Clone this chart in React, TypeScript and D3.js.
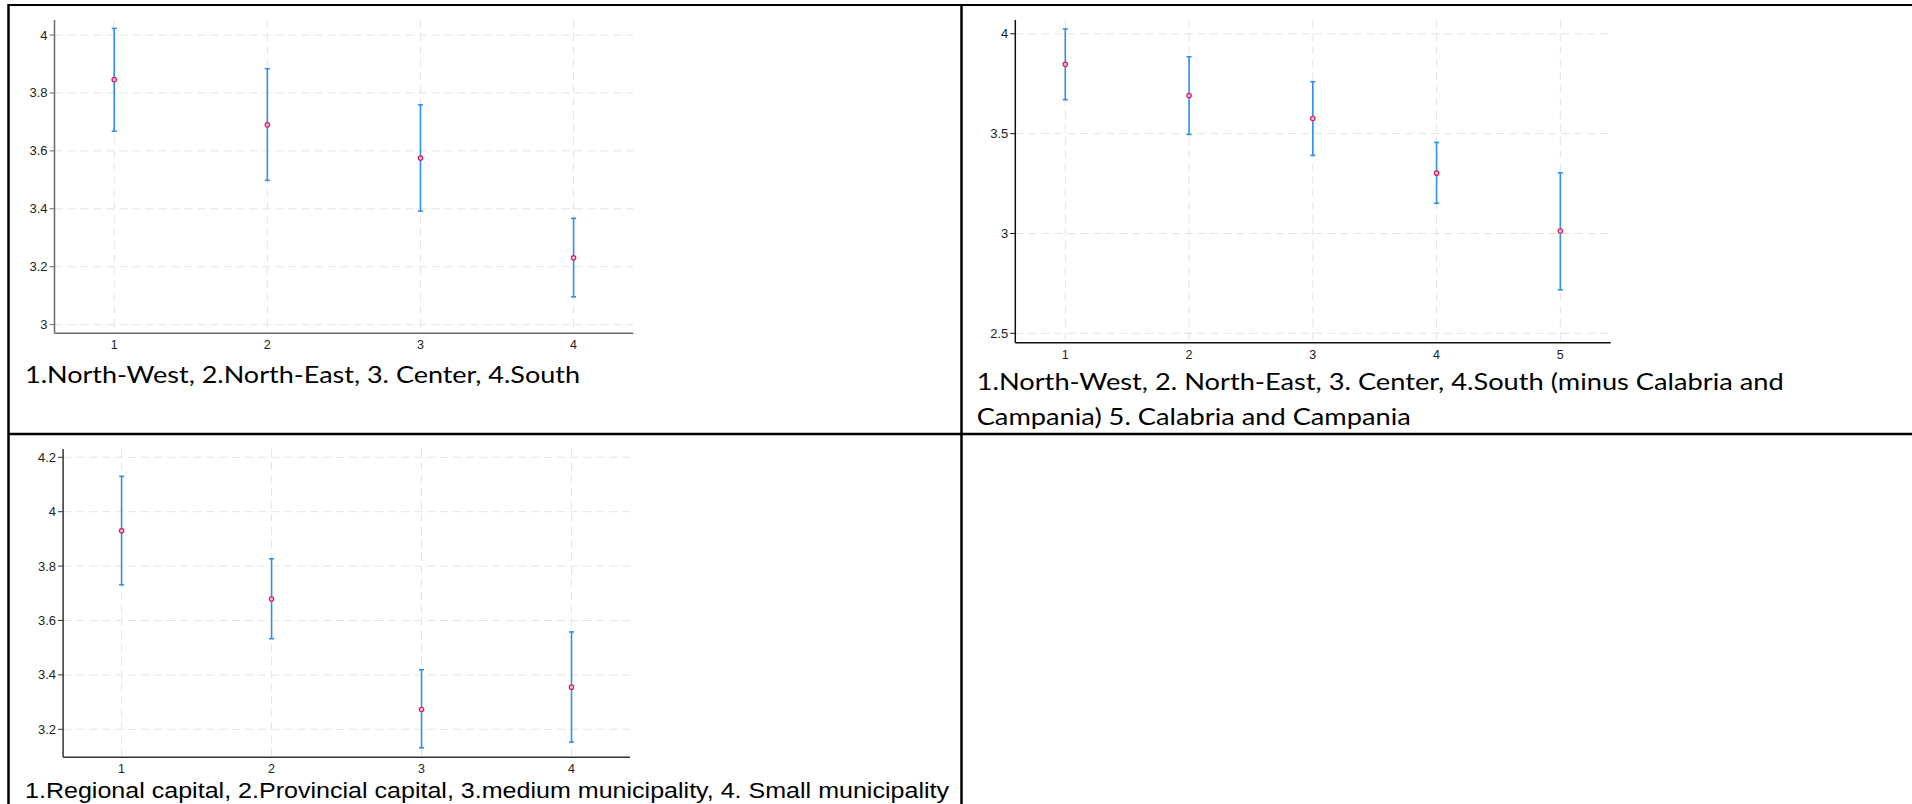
import React from "react";
import * as d3 from "d3";

// ---------- data ----------
const p1Categories = [1, 2, 3, 4];
const p1Mean = [3.846, 3.69, 3.575, 3.231];
const p1Lower = [3.668, 3.498, 3.392, 3.096];
const p1Upper = [4.023, 3.884, 3.759, 3.367];
const p1YTicks = [3, 3.2, 3.4, 3.6, 3.8, 4];
const p1Caption = ["1.North-West, 2.North-East, 3. Center, 4.South"];

const p2Categories = [1, 2, 3, 4, 5];
const p2Mean = [3.847, 3.691, 3.576, 3.302, 3.012];
const p2Lower = [3.67, 3.496, 3.391, 3.151, 2.718];
const p2Upper = [4.024, 3.885, 3.76, 3.456, 3.304];
const p2YTicks = [2.5, 3, 3.5, 4];
const p2Caption = [
  "1.North-West, 2. North-East, 3. Center, 4.South (minus Calabria and",
  "Campania) 5. Calabria and Campania",
];

const p3Categories = [1, 2, 3, 4];
const p3Mean = [3.93, 3.679, 3.273, 3.355];
const p3Lower = [3.731, 3.533, 3.132, 3.153];
const p3Upper = [4.13, 3.827, 3.419, 3.558];
const p3YTicks = [3.2, 3.4, 3.6, 3.8, 4, 4.2];
const p3Caption = [
  "1.Regional capital, 2.Provincial capital, 3.medium municipality, 4. Small municipality",
];

type PanelProps = {
  cats: number[];
  mean: number[];
  lower: number[];
  upper: number[];
  yTicks: number[];
  left: number;
  right: number;
  top: number;
  bottom: number;
  xDomain: [number, number];
  yDomain: [number, number];
  axisColor: string;
};

const GRID = "#e4e4e4";
const BAR = "#2f8ef2";
const MARK = "#dd1a5e";
const TICKFONT = "'Liberation Sans', Arial, sans-serif";
const CAPFONT = "Lato, 'Open Sans', sans-serif";
const CAPSIZE = 22.5;

function measure(text: string, font: string): number {
  if (typeof document === "undefined") return text.length * 10;
  const c = document.createElement("canvas").getContext("2d");
  if (!c) return text.length * 10;
  c.font = font;
  return c.measureText(text).width;
}

function Panel(p: PanelProps) {
  const x = d3.scaleLinear().domain(p.xDomain).range([p.left, p.right]);
  const y = d3.scaleLinear().domain(p.yDomain).range([p.bottom, p.top]);
  const fmt = (v: number) => d3.format("~g")(v);
  return (
    <g>
      {p.yTicks.map((t) => (
        <line key={"gy" + t} x1={p.left} x2={p.right} y1={y(t)} y2={y(t)}
          stroke={GRID} strokeWidth={1} strokeDasharray="8 5" />
      ))}
      {p.cats.map((c) => (
        <line key={"gx" + c} x1={x(c)} x2={x(c)} y1={p.top} y2={p.bottom}
          stroke={GRID} strokeWidth={1} strokeDasharray="8 5" />
      ))}
      <line x1={p.left} x2={p.left} y1={p.top} y2={p.bottom} stroke={p.axisColor} strokeWidth={1.5} />
      <line x1={p.left} x2={p.right} y1={p.bottom} y2={p.bottom} stroke={p.axisColor} strokeWidth={1.5} />
      {p.yTicks.map((t) => (
        <g key={"ty" + t}>
          <line x1={p.left - 5} x2={p.left} y1={y(t)} y2={y(t)} stroke={p.axisColor} strokeWidth={1} />
          <text x={p.left - 7} y={y(t)} textAnchor="end" dominantBaseline="central"
            fontFamily={TICKFONT} fontSize={13} fill="#222">
            {fmt(t)}
          </text>
        </g>
      ))}
      {p.cats.map((c) => (
        <text key={"tx" + c} x={x(c)} y={p.bottom + 16} textAnchor="middle"
          fontFamily={TICKFONT} fontSize={12.5} fill="#222">
          {c}
        </text>
      ))}
      {p.cats.map((c, i) => (
        <g key={"eb" + c}>
          <line x1={x(c)} x2={x(c)} y1={y(p.lower[i])} y2={y(p.upper[i])} stroke={BAR} strokeWidth={1.6} />
          <line x1={x(c) - 2.5} x2={x(c) + 2.5} y1={y(p.lower[i])} y2={y(p.lower[i])} stroke={BAR} strokeWidth={1.6} />
          <line x1={x(c) - 2.5} x2={x(c) + 2.5} y1={y(p.upper[i])} y2={y(p.upper[i])} stroke={BAR} strokeWidth={1.6} />
          <circle cx={x(c)} cy={y(p.mean[i])} r={2.2} fill="#f6c3d6" stroke={MARK} strokeWidth={1.2} />
        </g>
      ))}
    </g>
  );
}

export default function App() {
  const capFont = `${CAPSIZE}px Lato, 'Open Sans', sans-serif`;
  const w1 = measure(p2Caption[0], capFont);
  const w2 = measure(p2Caption[1], capFont);
  const line1Len = 807;
  const ratio = w1 > 0 ? line1Len / w1 : 1;
  const line2Len = w2 * ratio;
  return (
    <svg width={1912} height={804} style={{ position: "absolute", left: 0, top: 0, background: "#fff" }}>
      <rect x={0} y={0} width={1912} height={804} fill="#fff" />
      <line x1={8} x2={1912} y1={5} y2={5} stroke="#000" strokeWidth={2} />
      <line x1={8.5} x2={8.5} y1={4} y2={804} stroke="#000" strokeWidth={2.5} />
      <line x1={961.5} x2={961.5} y1={4} y2={804} stroke="#000" strokeWidth={2.5} />
      <line x1={8} x2={1912} y1={434} y2={434} stroke="#000" strokeWidth={2.5} />

      <Panel cats={p1Categories} mean={p1Mean} lower={p1Lower} upper={p1Upper} yTicks={p1YTicks}
        left={54.5} right={633.3} top={20} bottom={333.3}
        xDomain={[0.61, 4.39]} yDomain={[2.97, 4.052]} axisColor="#6a6a6a" />
      <Panel cats={p2Categories} mean={p2Mean} lower={p2Lower} upper={p2Upper} yTicks={p2YTicks}
        left={1015.3} right={1610.7} top={20} bottom={342.7}
        xDomain={[0.596, 5.407]} yDomain={[2.453, 4.069]} axisColor="#111" />
      <Panel cats={p3Categories} mean={p3Mean} lower={p3Lower} upper={p3Upper} yTicks={p3YTicks}
        left={63.1} right={630} top={449} bottom={757.3}
        xDomain={[0.61, 4.39]} yDomain={[3.097, 4.2305]} axisColor="#333" />

      <text x={25} y={383.3} fontFamily={CAPFONT} fontSize={CAPSIZE} fill="#000"
        textLength={555} lengthAdjust="spacingAndGlyphs">
        {p1Caption[0]}
      </text>
      <text x={976.7} y={390} fontFamily={CAPFONT} fontSize={CAPSIZE} fill="#000"
        textLength={line1Len} lengthAdjust="spacingAndGlyphs">
        {p2Caption[0]}
      </text>
      <text x={976.7} y={425} fontFamily={CAPFONT} fontSize={CAPSIZE} fill="#000"
        textLength={line2Len} lengthAdjust="spacingAndGlyphs">
        {p2Caption[1]}
      </text>
      <text x={25} y={798.3} fontFamily="'Liberation Sans', Arial, sans-serif" fontSize={22} fill="#000"
        textLength={924} lengthAdjust="spacingAndGlyphs">
        {p3Caption[0]}
      </text>
    </svg>
  );
}
